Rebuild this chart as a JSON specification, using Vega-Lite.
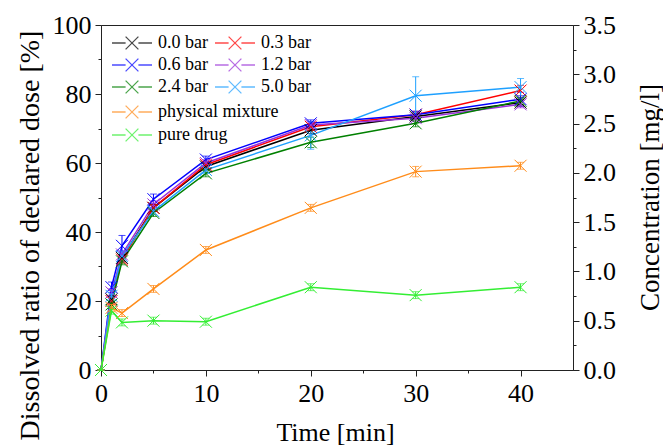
{
  "$schema": "https://vega.github.io/schema/vega-lite/v6.json",
  "width": 472,
  "height": 345,
  "autosize": "none",
  "padding": {"left": 101, "top": 25, "right": 90, "bottom": 78},
  "background": "white",
  "config": {
    "font": "Liberation Serif",
    "view": {"stroke": "#222", "strokeWidth": 1},
    "axis": {
      "grid": false,
      "labelFlush": false,
      "domainColor": "#222",
      "tickColor": "#222",
      "labelColor": "#000",
      "titleColor": "#000",
      "labelFont": "Liberation Serif",
      "titleFont": "Liberation Serif",
      "labelFontSize": 26,
      "titleFontSize": 27,
      "titleFontWeight": "normal"
    },
    "legend": {
      "labelFont": "Liberation Serif",
      "labelFontSize": 18,
      "labelColor": "#000",
      "padding": 0
    }
  },
  "data": {
    "values": [
      {"s": "0.0 bar", "g": "A", "t": 0, "v": 0, "e": 0},
      {"s": "0.0 bar", "g": "A", "t": 1, "v": 20.5, "e": 1},
      {"s": "0.0 bar", "g": "A", "t": 2, "v": 32.5, "e": 1},
      {"s": "0.0 bar", "g": "A", "t": 5, "v": 47, "e": 1},
      {"s": "0.0 bar", "g": "A", "t": 10, "v": 59, "e": 1},
      {"s": "0.0 bar", "g": "A", "t": 20, "v": 69.5, "e": 1},
      {"s": "0.0 bar", "g": "A", "t": 30, "v": 73.5, "e": 1},
      {"s": "0.0 bar", "g": "A", "t": 40, "v": 77.5, "e": 1},
      {"s": "0.3 bar", "g": "A", "t": 0, "v": 0, "e": 0},
      {"s": "0.3 bar", "g": "A", "t": 1, "v": 20, "e": 1},
      {"s": "0.3 bar", "g": "A", "t": 2, "v": 32, "e": 1},
      {"s": "0.3 bar", "g": "A", "t": 5, "v": 47, "e": 1},
      {"s": "0.3 bar", "g": "A", "t": 10, "v": 59.5, "e": 1},
      {"s": "0.3 bar", "g": "A", "t": 20, "v": 70.5, "e": 1},
      {"s": "0.3 bar", "g": "A", "t": 30, "v": 74, "e": 1},
      {"s": "0.3 bar", "g": "A", "t": 40, "v": 81, "e": 1.5},
      {"s": "0.6 bar", "g": "A", "t": 0, "v": 0, "e": 0},
      {"s": "0.6 bar", "g": "A", "t": 1, "v": 24, "e": 1.5},
      {"s": "0.6 bar", "g": "A", "t": 2, "v": 36, "e": 3},
      {"s": "0.6 bar", "g": "A", "t": 5, "v": 49.5, "e": 1.5},
      {"s": "0.6 bar", "g": "A", "t": 10, "v": 61, "e": 1},
      {"s": "0.6 bar", "g": "A", "t": 20, "v": 71.5, "e": 1},
      {"s": "0.6 bar", "g": "A", "t": 30, "v": 74, "e": 1},
      {"s": "0.6 bar", "g": "A", "t": 40, "v": 78.5, "e": 2},
      {"s": "1.2 bar", "g": "A", "t": 0, "v": 0, "e": 0},
      {"s": "1.2 bar", "g": "A", "t": 1, "v": 22.5, "e": 1},
      {"s": "1.2 bar", "g": "A", "t": 2, "v": 33.5, "e": 1},
      {"s": "1.2 bar", "g": "A", "t": 5, "v": 48, "e": 1},
      {"s": "1.2 bar", "g": "A", "t": 10, "v": 60, "e": 1},
      {"s": "1.2 bar", "g": "A", "t": 20, "v": 71, "e": 1},
      {"s": "1.2 bar", "g": "A", "t": 30, "v": 73, "e": 1},
      {"s": "1.2 bar", "g": "A", "t": 40, "v": 77, "e": 1},
      {"s": "2.4 bar", "g": "A", "t": 0, "v": 0, "e": 0},
      {"s": "2.4 bar", "g": "A", "t": 1, "v": 19, "e": 1},
      {"s": "2.4 bar", "g": "A", "t": 2, "v": 31.5, "e": 1},
      {"s": "2.4 bar", "g": "A", "t": 5, "v": 45.5, "e": 1},
      {"s": "2.4 bar", "g": "A", "t": 10, "v": 57, "e": 1},
      {"s": "2.4 bar", "g": "A", "t": 20, "v": 66, "e": 1.5},
      {"s": "2.4 bar", "g": "A", "t": 30, "v": 71.5, "e": 1},
      {"s": "2.4 bar", "g": "A", "t": 40, "v": 78, "e": 1},
      {"s": "5.0 bar", "g": "A", "t": 0, "v": 0, "e": 0},
      {"s": "5.0 bar", "g": "A", "t": 1, "v": 21.5, "e": 1.5},
      {"s": "5.0 bar", "g": "A", "t": 2, "v": 33, "e": 1.5},
      {"s": "5.0 bar", "g": "A", "t": 5, "v": 46, "e": 1},
      {"s": "5.0 bar", "g": "A", "t": 10, "v": 58, "e": 1},
      {"s": "5.0 bar", "g": "A", "t": 20, "v": 68, "e": 4},
      {"s": "5.0 bar", "g": "A", "t": 30, "v": 79.5, "e": 5.5},
      {"s": "5.0 bar", "g": "A", "t": 40, "v": 82, "e": 2.5},
      {"s": "physical mixture", "g": "B", "t": 0, "v": 0, "e": 0},
      {"s": "physical mixture", "g": "B", "t": 1, "v": 18, "e": 1},
      {"s": "physical mixture", "g": "B", "t": 2, "v": 16.5, "e": 1},
      {"s": "physical mixture", "g": "B", "t": 5, "v": 23.5, "e": 1},
      {"s": "physical mixture", "g": "B", "t": 10, "v": 34.8, "e": 1},
      {"s": "physical mixture", "g": "B", "t": 20, "v": 47, "e": 1},
      {"s": "physical mixture", "g": "B", "t": 30, "v": 57.5, "e": 1.5},
      {"s": "physical mixture", "g": "B", "t": 40, "v": 59.2, "e": 1},
      {"s": "pure drug", "g": "B", "t": 0, "v": 0, "e": 0},
      {"s": "pure drug", "g": "B", "t": 1, "v": 17.2, "e": 1},
      {"s": "pure drug", "g": "B", "t": 2, "v": 13.8, "e": 1},
      {"s": "pure drug", "g": "B", "t": 5, "v": 14.3, "e": 1},
      {"s": "pure drug", "g": "B", "t": 10, "v": 14, "e": 1},
      {"s": "pure drug", "g": "B", "t": 20, "v": 24, "e": 1},
      {"s": "pure drug", "g": "B", "t": 30, "v": 21.7, "e": 1},
      {"s": "pure drug", "g": "B", "t": 40, "v": 24, "e": 1}
    ]
  },
  "encoding": {
    "x": {
      "field": "t",
      "type": "quantitative",
      "scale": {"domain": [0, 45], "nice": false},
      "axis": {
        "title": "Time [min]",
        "values": [0, 5, 10, 15, 20, 25, 30, 35, 40],
        "labelExpr": "datum.value % 10 === 0 ? datum.label : ''",
        "tickSize": {"condition": {"test": "datum.value % 10 === 0", "value": 6}, "value": 3},
        "labelPadding": 4,
        "labelFlush": false,
        "labelFont": "Liberation Serif",
        "labelFontSize": 26,
        "titleFont": "Liberation Serif",
        "titleFontSize": 26,
        "titleX": 234,
        "titleY": 70,
        "titleBaseline": "alphabetic"
      }
    }
  },
  "layer": [
    {
      "encoding": {
        "y": {
          "field": "v",
          "type": "quantitative",
          "scale": {"domain": [0, 100], "nice": false},
          "axis": {
            "title": "Dissolved ratio of declared dose [%]",
            "values": [0, 10, 20, 30, 40, 50, 60, 70, 80, 90, 100],
            "labelExpr": "datum.value % 20 === 0 ? datum.label : ''",
            "tickSize": {"condition": {"test": "datum.value % 20 === 0", "value": 6}, "value": 3},
            "labelPadding": 4,
            "labelFlush": false,
            "labelFont": "Liberation Serif",
            "labelFontSize": 26,
            "titleFont": "Liberation Serif",
            "titleFontSize": 28,
            "titleX": -71,
            "titleY": 210,
            "titleAngle": -90,
            "titleBaseline": "middle"
          }
        }
      },
      "layer": [
        {
          "transform": [{"filter": "datum.g === 'A'"}],
          "encoding": {
            "color": {
              "field": "s",
              "type": "nominal",
              "scale": {
                "domain": ["0.0 bar", "0.6 bar", "2.4 bar", "0.3 bar", "1.2 bar", "5.0 bar"],
                "range": ["#000000", "#0000FF", "#008000", "#FF0000", "#9B30D9", "#1EA0FF"]
              },
              "legend": {
                "title": null,
                "orient": "none",
                "legendX": 22,
                "legendY": 9,
                "columns": 2,
                "columnPadding": 4,
                "rowPadding": 4,
                "symbolType": "M-2.5,0H-0.8M0.8,0H2.5M-0.8,-0.8L0.8,0.8M-0.8,0.8L0.8,-0.8",
                "symbolSize": 256,
                "symbolStrokeWidth": 1.3,
                "symbolFillColor": "transparent",
                "labelOffset": 17,
                "labelFont": "Liberation Serif",
                "labelFontSize": 18
              }
            }
          },
          "layer": [
            {"mark": {"type": "line", "strokeWidth": 1.5}},
            {"mark": {"type": "errorbar", "ticks": {"size": 7}, "thickness": 1}, "encoding": {"yError": {"field": "e"}}},
            {"mark": {"type": "point", "shape": "M-1,-1L1,1M-1,1L1,-1", "filled": false, "size": 144, "strokeWidth": 1, "opacity": 1}}
          ]
        },
        {
          "transform": [{"filter": "datum.g === 'B'"}],
          "encoding": {
            "color": {
              "field": "s",
              "type": "nominal",
              "scale": {
                "domain": ["physical mixture", "pure drug"],
                "range": ["#FF8C1A", "#33EE33"]
              },
              "legend": {
                "title": null,
                "orient": "none",
                "legendX": 22,
                "legendY": 78,
                "columns": 1,
                "rowPadding": 5,
                "symbolType": "M-2.5,0H-0.8M0.8,0H2.5M-0.8,-0.8L0.8,0.8M-0.8,0.8L0.8,-0.8",
                "symbolSize": 256,
                "symbolStrokeWidth": 1.3,
                "symbolFillColor": "transparent",
                "labelOffset": 17,
                "labelFont": "Liberation Serif",
                "labelFontSize": 18
              }
            }
          },
          "layer": [
            {"mark": {"type": "line", "strokeWidth": 1.5}},
            {"mark": {"type": "errorbar", "ticks": {"size": 7}, "thickness": 1}, "encoding": {"yError": {"field": "e"}}},
            {"mark": {"type": "point", "shape": "M-1,-1L1,1M-1,1L1,-1", "filled": false, "size": 144, "strokeWidth": 1, "opacity": 1}}
          ]
        }
      ],
      "resolve": {"scale": {"color": "independent"}, "legend": {"color": "independent"}}
    },
    {
      "mark": {"type": "point", "opacity": 0, "clip": true},
      "encoding": {
        "y": {
          "field": "v",
          "type": "quantitative",
          "scale": {"domain": [0, 3.5], "nice": false},
          "axis": {
            "orient": "right",
            "title": "Concentration [mg/l]",
            "values": [0, 0.25, 0.5, 0.75, 1, 1.25, 1.5, 1.75, 2, 2.25, 2.5, 2.75, 3, 3.25, 3.5],
            "labelExpr": "round(datum.value * 100) % 50 === 0 ? format(datum.value, '.1f') : ''",
            "tickSize": {"condition": {"test": "round(datum.value * 100) % 50 === 0", "value": 6}, "value": 3},
            "labelPadding": 4,
            "labelFlush": false,
            "labelFont": "Liberation Serif",
            "labelFontSize": 26,
            "titleFont": "Liberation Serif",
            "titleFontSize": 27,
            "titleX": 77,
            "titleY": 172,
            "titleAngle": -90,
            "titleBaseline": "middle"
          }
        }
      }
    }
  ],
  "resolve": {"scale": {"y": "independent"}}
}
